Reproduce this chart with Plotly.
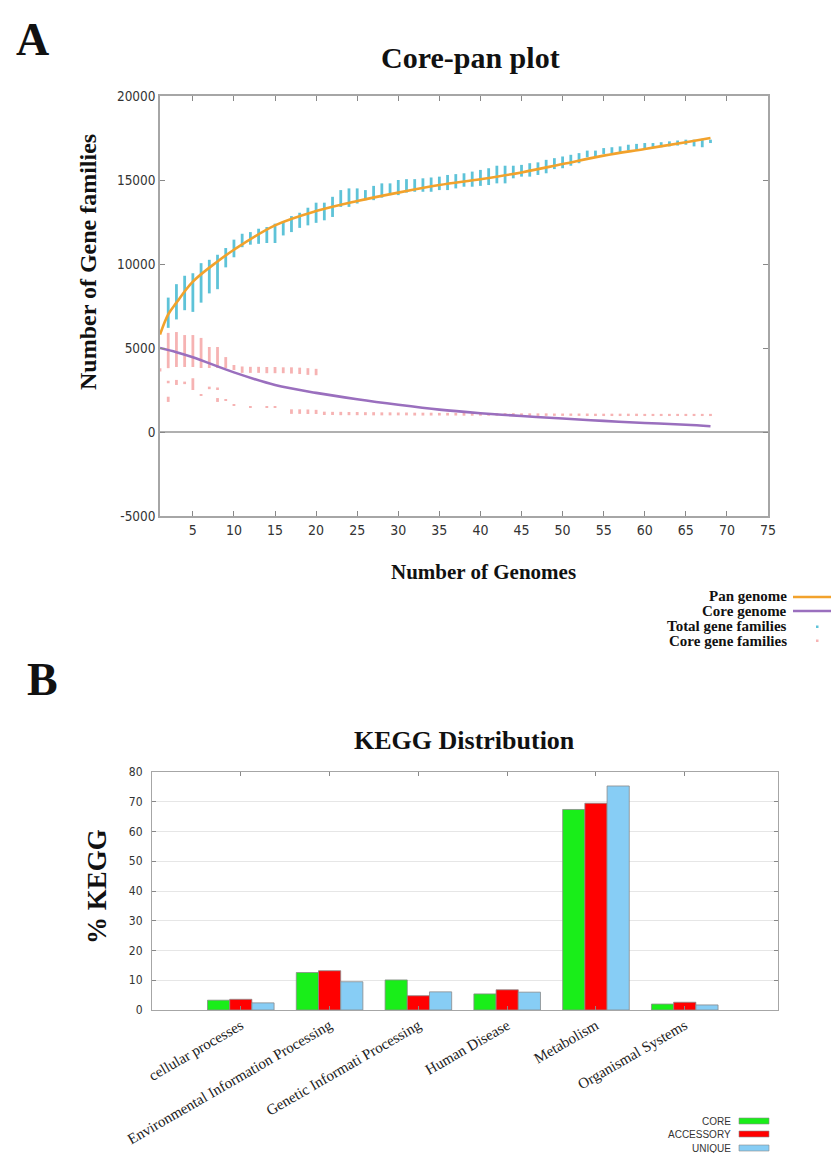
import plotly.graph_objects as go

# page offset of the figure inside the browser page (default body margin)
OX, OY = 8, 8
W, H = 839 - OX, 1153 - OY

# ---------------- Panel A data ----------------
pan_x = [1, 2, 3, 5, 8, 10, 15, 20, 25, 30, 35, 40, 45, 50, 55, 60, 65, 68]
pan_y = [5800, 7000, 7700, 8950, 10150, 10850, 12300, 13150, 13750, 14250,
         14700, 15050, 15450, 15950, 16450, 16850, 17250, 17500]

core_x = [1, 3, 5, 10, 15, 20, 25, 30, 35, 40, 45, 50, 55, 60, 65, 68]
core_y = [5000, 4750, 4450, 3550, 2800, 2330, 1950, 1620, 1330, 1120, 950,
          800, 660, 540, 430, 340]

total_x = list(range(2, 69))
total_lo = [6200, 6700, 7250, 7150, 7700, 8250, 8500, 9800, 10400, 11000,
            11150, 11200, 11250, 11250, 11700, 11900, 12150, 12300, 12450, 12600,
            12800, 13400, 13400, 13600, 13800, 13800, 13950, 14100, 14100, 14250,
            14300, 14300, 14300, 14400, 14400, 14500, 14600, 14600, 14650, 14700,
            14800, 14800, 15100, 15200, 15200, 15300, 15400, 15650, 15700, 15850,
            16000, 16350, 16350, 16550, 16600, 16650, 16750, 16800, 16850, 16900,
            16950, 17000, 17050, 17100, 17000, 16950, 17200]
total_hi = [8000, 8800, 9300, 9450, 10050, 10250, 10550, 10950, 11450, 11800,
            11900, 12100, 12200, 12400, 12500, 12850, 13050, 13350, 13650, 13650,
            14000, 14400, 14500, 14500, 14400, 14650, 14800, 14800, 15000, 15050,
            15050, 15100, 15150, 15200, 15300, 15350, 15400, 15500, 15600, 15700,
            15850, 15850, 15850, 15900, 16000, 16050, 16200, 16300, 16400, 16500,
            16600, 16750, 16750, 16900, 16950, 17000, 17100, 17150, 17200, 17200,
            17250, 17300, 17350, 17400, 17400, 17450, 17400]

# core gene families: upper cluster, middle cluster, lower cluster
coreA_x = list(range(1, 21))
coreA_lo = [3600, 3800, 3870, 3870, 3870, 3810, 3810, 3810, 3810, 3690,
            3520, 3520, 3520, 3500, 3500, 3500, 3480, 3450, 3400, 3380]
coreA_hi = [3800, 5900, 5950, 5770, 5770, 5600, 5060, 5060, 4460, 3990,
            3900, 3880, 3880, 3870, 3870, 3850, 3850, 3830, 3800, 3760]

coreB_x = [2, 3, 4, 5, 7, 8]
coreB_lo = [2900, 2800, 2850, 2500, 2550, 2550]
coreB_hi = [3050, 3100, 3000, 3200, 2700, 2650]

coreC_x = [2, 6, 8, 9, 10, 12, 14, 15, 17, 18, 19, 20]
coreC_lo = [1790, 2150, 1790, 1850, 1560, 1440, 1440, 1440, 1080, 1080, 1070, 1070]
coreC_hi = [2100, 2250, 2020, 1950, 1660, 1540, 1540, 1540, 1350, 1350, 1340, 1320]

coreD_x = list(range(21, 69))
coreD_lo = [1010, 1010, 1000, 1000, 1000, 1000, 990, 990,
            990, 990, 990, 980, 980, 980, 980, 980,
            980, 970, 970, 970, 970, 970, 970, 970,
            960, 960, 960, 960, 960, 960, 960, 960,
            950, 950, 950, 950, 950, 950, 950, 950,
            950, 950, 950, 950, 950, 950, 950, 950]
coreD_hi = [1210, 1200, 1200, 1190, 1190, 1180, 1180, 1170,
            1170, 1160, 1160, 1150, 1150, 1150, 1140, 1140,
            1140, 1130, 1130, 1130, 1120, 1120, 1120, 1120,
            1110, 1110, 1110, 1110, 1100, 1100, 1100, 1100,
            1100, 1090, 1090, 1090, 1090, 1090, 1090, 1080,
            1080, 1080, 1080, 1080, 1080, 1080, 1080, 1080]

x_ticks_A = [5, 10, 15, 20, 25, 30, 35, 40, 45, 50, 55, 60, 65, 70, 75]
y_ticks_A = [-5000, 0, 5000, 10000, 15000, 20000]
y_ticklabels_A = ["-5000", "0", "5000", "10000", "15000", "20000"]

# ---------------- Panel B data ----------------
kegg_categories = ["cellular processes", "Environmental Information Processing",
                   "Genetic Informati Processing", "Human Disease",
                   "Metabolism", "Organismal Systems"]
kegg_core = [3.3, 12.6, 10.1, 5.4, 67.4, 2.0]
kegg_accessory = [3.6, 13.2, 4.8, 6.8, 69.5, 2.6]
kegg_unique = [2.4, 9.5, 6.1, 6.0, 75.3, 1.7]
y_ticks_B = [0, 10, 20, 30, 40, 50, 60, 70, 80]


def px(x):
    return (x - OX) / W


def py(y):
    return 1 - (y - OY) / H


BLUE = "#5ec3d8"
PINK = "#f6b3b3"
ORANGE = "#f2a22c"
PURPLE = "#9a6fbe"
GRAY = "#a6a6a6"
SERIF = "Liberation Serif, Times New Roman, serif"
SANS = "Liberation Sans Narrow, DejaVu Sans Condensed, Liberation Sans, Arial, sans-serif"

fig = go.Figure()


def diff(hi, lo):
    return [h - l for h, l in zip(hi, lo)]


# total gene family columns
fig.add_trace(go.Bar(x=total_x, base=total_lo, y=diff(total_hi, total_lo),
                     width=0.34, offset=-0.17, marker=dict(color=BLUE, line=dict(width=0)),
                     xaxis="x", yaxis="y", showlegend=False))
# core gene family columns
core_x_all = coreA_x + coreB_x + coreC_x + coreD_x
core_lo_all = coreA_lo + coreB_lo + coreC_lo + coreD_lo
core_hi_all = coreA_hi + coreB_hi + coreC_hi + coreD_hi
fig.add_trace(go.Bar(x=core_x_all, base=core_lo_all, y=diff(core_hi_all, core_lo_all),
                     width=0.34, offset=-0.17, marker=dict(color=PINK, line=dict(width=0)),
                     xaxis="x", yaxis="y", showlegend=False))
# fitted curves
fig.add_trace(go.Scatter(x=pan_x, y=pan_y, mode="lines",
                         line=dict(color=ORANGE, width=2.6, shape="spline", smoothing=1.0),
                         xaxis="x", yaxis="y", showlegend=False))
fig.add_trace(go.Scatter(x=core_x, y=core_y, mode="lines",
                         line=dict(color=PURPLE, width=2.6, shape="spline", smoothing=1.0),
                         xaxis="x", yaxis="y", showlegend=False))

# KEGG bars
kx = list(range(len(kegg_categories)))
for vals, col, off in [(kegg_core, "#19ee19", -0.375),
                       (kegg_accessory, "#ff0000", -0.125),
                       (kegg_unique, "#87cdf5", 0.125)]:
    fig.add_trace(go.Bar(x=kx, y=vals, width=0.25, offset=off,
                         marker=dict(color=col, line=dict(color="#8a8a8a", width=0.8)),
                         xaxis="x2", yaxis="y2", showlegend=False))

fig.update_layout(
    width=W, height=H, margin=dict(l=0, r=0, t=0, b=0, autoexpand=False),
    paper_bgcolor="white", plot_bgcolor="white", barmode="overlay",
    xaxis=dict(domain=[px(160), px(768)], anchor="y", range=[1, 75], automargin=False,
               tickvals=x_ticks_A, ticks="inside", ticklen=5, tickcolor="#888",
               showline=True, linecolor=GRAY, linewidth=1.5, mirror="ticks",
               showgrid=False, zeroline=False,
               tickfont=dict(family=SANS, size=14, color="#333")),
    yaxis=dict(domain=[py(516), py(96)], anchor="x", range=[-5000, 20000], automargin=False,
               tickvals=y_ticks_A, ticktext=y_ticklabels_A,
               ticks="inside", ticklen=5, tickcolor="#888",
               showline=True, linecolor=GRAY, linewidth=1.5, mirror="ticks",
               showgrid=False, zeroline=True, zerolinecolor="#b0b0b0", zerolinewidth=1.5,
               tickfont=dict(family=SANS, size=13.5, color="#333")),
    xaxis2=dict(domain=[px(152), px(778)], anchor="y2", range=[-1, 6.05], automargin=False,
                tickvals=kx, ticktext=kegg_categories, tickangle=-30,
                ticks="inside", ticklen=4, tickcolor="#888",
                showline=True, linecolor=GRAY, linewidth=1.2, mirror="ticks",
                showgrid=False, zeroline=False,
                tickfont=dict(family=SERIF, size=15, color="#222")),
    yaxis2=dict(domain=[py(1010), py(772)], anchor="x2", range=[0, 80], automargin=False,
                tickvals=y_ticks_B, ticks="inside", ticklen=4, tickcolor="#888",
                ticklabelstandoff=6,
                showline=True, linecolor=GRAY, linewidth=1.2, mirror="ticks",
                showgrid=True, gridcolor="#e6e6e6", gridwidth=1, zeroline=False,
                tickfont=dict(family=SANS, size=12, color="#333")),
)

ann = []


def text(x, y, s, size, family=SERIF, bold=True, anchor="center", angle=0, color="#111"):
    ann.append(dict(x=px(x), y=py(y), xref="paper", yref="paper",
                    text=("<b>%s</b>" % s) if bold else s, showarrow=False,
                    xanchor=anchor, yanchor="middle", textangle=angle,
                    font=dict(family=family, size=size, color=color)))


text(32, 40, "A", 46)
text(42, 680, "B", 46)
text(470, 57, "Core-pan plot", 30)
text(484, 572, "Number of Genomes", 21)
text(88, 262, "Number of Gene families", 24, angle=-90)
text(464, 740, "KEGG Distribution", 26)
text(97, 887, "% KEGG", 27, angle=-90)

# legend A
for yy, lab in [(596, "Pan genome"), (611, "Core genome"),
                (626, "Total gene families"), (641, "Core gene families")]:
    text(789, yy, lab, 15, anchor="right")
# legend B
for yy, lab in [(1121, "CORE"), (1134, "ACCESSORY"), (1148, "UNIQUE")]:
    text(733, yy, lab, 10, family="Liberation Sans, Arial, sans-serif", bold=False,
         anchor="right", color="#333")

fig.update_layout(annotations=ann)

shapes = [
    dict(type="line", xref="paper", yref="paper", x0=px(793), x1=px(839),
         y0=py(597), y1=py(597), line=dict(color=ORANGE, width=2.6)),
    dict(type="line", xref="paper", yref="paper", x0=px(793), x1=px(839),
         y0=py(611), y1=py(611), line=dict(color=PURPLE, width=2.6)),
    dict(type="rect", xref="paper", yref="paper", x0=px(816), x1=px(818.5),
         y0=py(628), y1=py(625.5), line=dict(width=0), fillcolor=BLUE),
    dict(type="rect", xref="paper", yref="paper", x0=px(816), x1=px(818.5),
         y0=py(642), y1=py(639.5), line=dict(width=0), fillcolor=PINK),
]
for yy, col in [(1121, "#19ee19"), (1134, "#ff0000"), (1148, "#87cdf5")]:
    shapes.append(dict(type="rect", xref="paper", yref="paper", x0=px(739), x1=px(769),
                       y0=py(yy + 3), y1=py(yy - 3), fillcolor=col,
                       line=dict(color="#8a8a8a", width=0.6)))
fig.update_layout(shapes=shapes)

fig.write_html("out.html")
